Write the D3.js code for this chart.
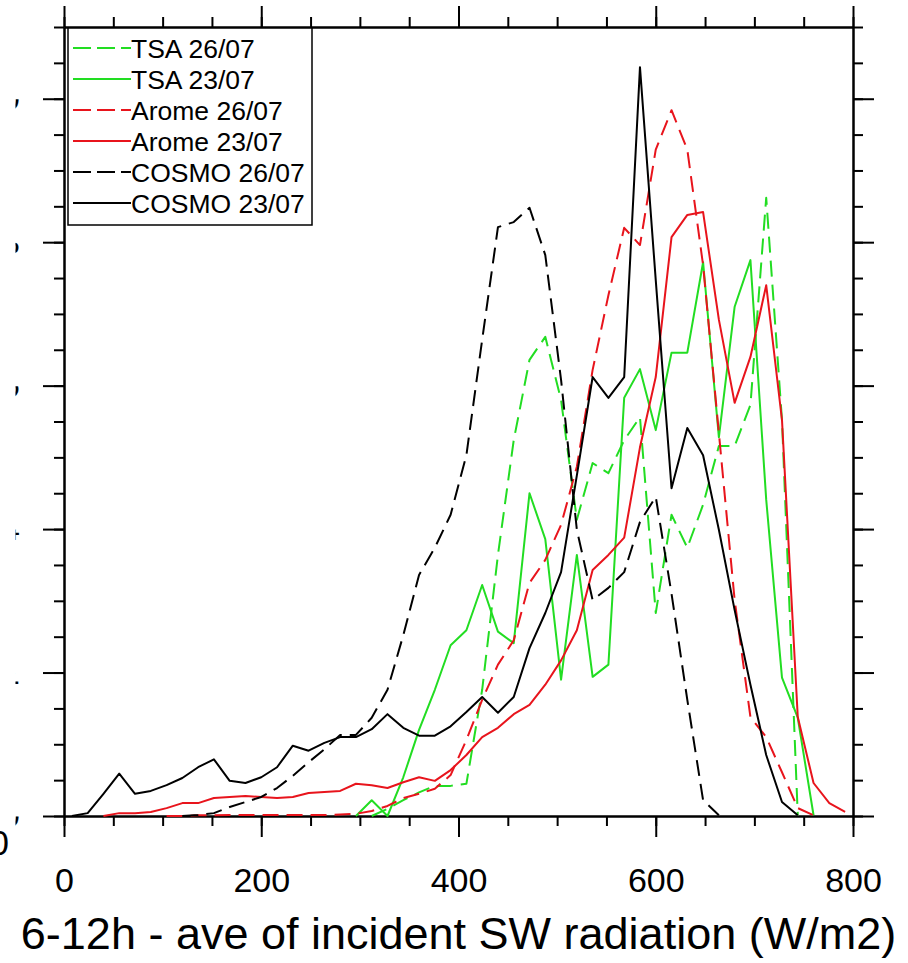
<!DOCTYPE html>
<html lang="en">
<head>
    <meta charset="UTF-8">
    <title>6-12h incident SW radiation</title>
    <script src="https://d3js.org/d3.v7.min.js"></script>
    <style>
        body { margin: 0; background: #ffffff; }
        svg { display: block; font-family: 'Liberation Sans', Arial, Helvetica, sans-serif; }
        .axis .domain { stroke: #000; stroke-width: 2px; }
        .axis line { stroke: #000; stroke-width: 2px; }
        .axis text { fill: #000; }
    </style>
</head>
<body>
<div id="chart"></div>
<script>
    // Bin centres (W/m2)
    const binCenters = [8, 24, 40, 56, 72, 88, 104, 120, 136, 152, 168, 184, 200, 216, 232, 248, 264, 280, 296, 312,
        328, 344, 360, 376, 392, 408, 424, 440, 456, 472, 488, 504, 520, 536, 552, 568, 584, 600, 616, 632,
        648, 664, 680, 696, 712, 728, 744, 760, 776, 792];

    // Series values (null = not drawn)
    const tsa2607 = [null, null, null, null, null, null, null, null, null, null, null, null, null, null, null, null, null, null, null, 0,
        0.1, 0.22, 0.33, 0.42, 0.42, 0.45, 1.76, 3.64, 5.24, 6.36, 6.68, 5.80, 4.13, 4.92, 4.78, 5.24, 5.56, 2.83, 4.20, 3.74,
        4.34, 5.16, 5.16, 5.73, 8.62, 5.52, 0.01, null, null, null];
    const tsa2307 = [null, null, null, null, null, null, null, null, null, null, null, null, null, null, null, null, null, null, 0, 0.22,
        0, 0.54, 1.20, 1.76, 2.38, 2.59, 3.22, 2.57, 2.41, 4.50, 3.86, 1.90, 3.64, 1.94, 2.11, 5.83, 6.23, 5.38, 6.46, 6.46,
        7.72, 5.28, 7.10, 7.75, 4.41, 1.93, 1.37, 0.01, null, null];
    const arome2607 = [null, null, null, null, null, null, 0, 0, 0.01, 0.01, 0.014, 0.014, 0.014, 0.014, 0.014, 0.014, 0.014, 0.02, 0.03, 0.07,
        0.14, 0.25, 0.31, 0.38, 0.57, 1.06, 1.62, 2.11, 2.45, 3.25, 3.57, 4.06, 4.87, 6.22, 7.26, 8.20, 7.96, 9.29, 9.84, 9.29,
        7.68, 5.34, 3.01, 1.38, 1.10, 0.61, 0.11, 0.01, null, null];
    const arome2307 = [null, null, 0, 0.04, 0.04, 0.056, 0.11, 0.18, 0.18, 0.25, 0.265, 0.28, 0.265, 0.25, 0.265, 0.32, 0.335, 0.35, 0.45, 0.43,
        0.39, 0.47, 0.54, 0.49, 0.64, 0.85, 1.10, 1.23, 1.42, 1.55, 1.83, 2.17, 2.59, 3.43, 3.64, 3.88, 5.14, 6.12, 8.07, 8.38,
        8.42, 6.92, 5.76, 6.40, 7.40, 5.52, 1.38, 0.46, 0.18, 0.056];
    const cosmo2607 = [null, null, null, null, null, null, null, 0, 0.014, 0.04, 0.125, 0.195, 0.265, 0.39, 0.56, 0.75, 0.93, 1.13, 1.13, 1.37,
        1.76, 2.52, 3.36, 3.74, 4.20, 5.03, 6.64, 8.21, 8.28, 8.48, 7.82, 6.08, 3.99, 3.01, 3.18, 3.40, 4.10, 4.45, 3.10, 1.62,
        0.22, 0.01, null, null, null, null, null, null, null, null];
    const cosmo2307 = [0, 0.04, 0.31, 0.59, 0.31, 0.35, 0.43, 0.53, 0.68, 0.79, 0.49, 0.46, 0.54, 0.68, 0.98, 0.91, 1.02, 1.10, 1.10, 1.21,
        1.42, 1.23, 1.12, 1.12, 1.25, 1.45, 1.66, 1.44, 1.66, 2.34, 2.83, 3.40, 4.75, 6.12, 5.83, 6.12, 10.44, 7.47, 4.57, 5.41,
        5.03, 3.99, 2.87, 1.83, 0.85, 0.195, 0.01, null, null, null];

    const seriesNames = ["TSA 26/07", "TSA 23/07", "Arome 26/07", "Arome 23/07", "COSMO 26/07", "COSMO 23/07"];
    const seriesValues = [tsa2607, tsa2307, arome2607, arome2307, cosmo2607, cosmo2307];
    const seriesColors = ["#22dd22", "#22dd22", "#e8141c", "#e8141c", "#000000", "#000000"];
    const seriesDashed = [true, false, true, false, true, false];

    const xMajorTicks = [0, 200, 400, 600, 800];
    const yMajorTicks = [0, 2, 4, 6, 8, 10];
    const xTitle = "6-12h - ave of incident SW radiation (W/m2)";

    const W = 908, H = 963;
    const margin = { top: 27, right: 55, bottom: 147, left: 64 };

    const svg = d3.select("#chart").append("svg")
        .attr("width", W)
        .attr("height", H);

    svg.append("rect").attr("width", W).attr("height", H).attr("fill", "#fff");

    const x = d3.scaleLinear().domain([0, 800]).range([margin.left, W - margin.right]);
    const y = d3.scaleLinear().domain([0, 11]).range([H - margin.bottom, margin.top]);

    const xMinor = d3.range(0, 801, 50);
    const yMinor = d3.range(0, 11.01, 0.5);

    // minor ticks on all four sides
    const x0 = x.range()[0], x1 = x.range()[1], y0 = y.range()[0], y1 = y.range()[1];
    svg.append("g").attr("class", "axis").attr("transform", `translate(0,${y0})`)
        .call(d3.axisBottom(x).tickValues(xMinor).tickSize(10).tickSizeOuter(0).tickFormat(""));
    svg.append("g").attr("class", "axis").attr("transform", `translate(0,${y1})`)
        .call(d3.axisTop(x).tickValues(xMinor).tickSize(10).tickSizeOuter(0).tickFormat(""));
    svg.append("g").attr("class", "axis").attr("transform", `translate(${x0},0)`)
        .call(d3.axisLeft(y).tickValues(yMinor).tickSize(10).tickSizeOuter(0).tickFormat(""));
    svg.append("g").attr("class", "axis").attr("transform", `translate(${x1},0)`)
        .call(d3.axisRight(y).tickValues(yMinor).tickSize(10).tickSizeOuter(0).tickFormat(""));

    // major ticks
    const xAxis = svg.append("g").attr("class", "axis").attr("transform", `translate(0,${y0})`)
        .call(d3.axisBottom(x).tickValues(xMajorTicks).tickSize(21).tickSizeOuter(0).tickPadding(31));
    xAxis.selectAll("text").style("font-size", "34px");
    svg.append("g").attr("class", "axis").attr("transform", `translate(0,${y1})`)
        .call(d3.axisTop(x).tickValues(xMajorTicks).tickSize(21).tickSizeOuter(0).tickFormat(""));
    svg.append("g").attr("class", "axis").attr("transform", `translate(${x1},0)`)
        .call(d3.axisRight(y).tickValues(yMajorTicks).tickSize(21).tickSizeOuter(0).tickFormat(""));

    // left axis: labels are cut off by the left edge of the figure
    svg.append("clipPath").attr("id", "ylab-clip")
        .append("rect").attr("x", 15.5).attr("y", 0).attr("width", 8).attr("height", H);
    const yAxis = svg.append("g").attr("class", "axis").attr("transform", `translate(${x0},0)`)
        .call(d3.axisLeft(y).tickValues(yMajorTicks).tickSize(21).tickSizeOuter(0).tickPadding(25).tickFormat(d3.format(".0f")));
    yAxis.selectAll("text").style("font-size", "34px").attr("clip-path", "url(#ylab-clip)")
        .attr("transform", `translate(${-x0},0)`).attr("x", 20);
    svg.append("text").attr("x", 9).attr("y", 855).attr("text-anchor", "end")
        .style("font-size", "35px").text("0");

    // series
    const line = d3.line()
        .defined(d => d[1] != null)
        .x(d => x(d[0]))
        .y(d => y(d[1]));

    seriesValues.forEach((vals, i) => {
        svg.append("path")
            .datum(binCenters.map((c, k) => [c, vals[k]]))
            .attr("fill", "none")
            .attr("stroke", seriesColors[i])
            .attr("stroke-width", 2)
            .attr("stroke-dasharray", seriesDashed[i] ? "16,8" : null)
            .attr("stroke-linejoin", "round")
            .attr("d", line);
    });

    // legend
    const legend = svg.append("g");
    legend.append("rect")
        .attr("x", 68).attr("y", 28).attr("width", 244).attr("height", 197)
        .attr("fill", "#fff").attr("stroke", "#000").attr("stroke-width", 1.5);
    seriesNames.forEach((name, i) => {
        const cy = 48 + i * 31;
        legend.append("line")
            .attr("x1", 73).attr("x2", 131).attr("y1", cy).attr("y2", cy)
            .attr("stroke", seriesColors[i]).attr("stroke-width", 2)
            .attr("stroke-dasharray", seriesDashed[i] ? "18,6" : null);
        legend.append("text")
            .attr("x", 131).attr("y", cy + 9.5)
            .style("font-size", "26.5px")
            .text(name);
    });

    // x title
    svg.append("text")
        .attr("x", (x0 + x1) / 2).attr("y", 949)
        .attr("text-anchor", "middle")
        .style("font-size", "45px")
        .text(xTitle);
</script>
</body>
</html>
